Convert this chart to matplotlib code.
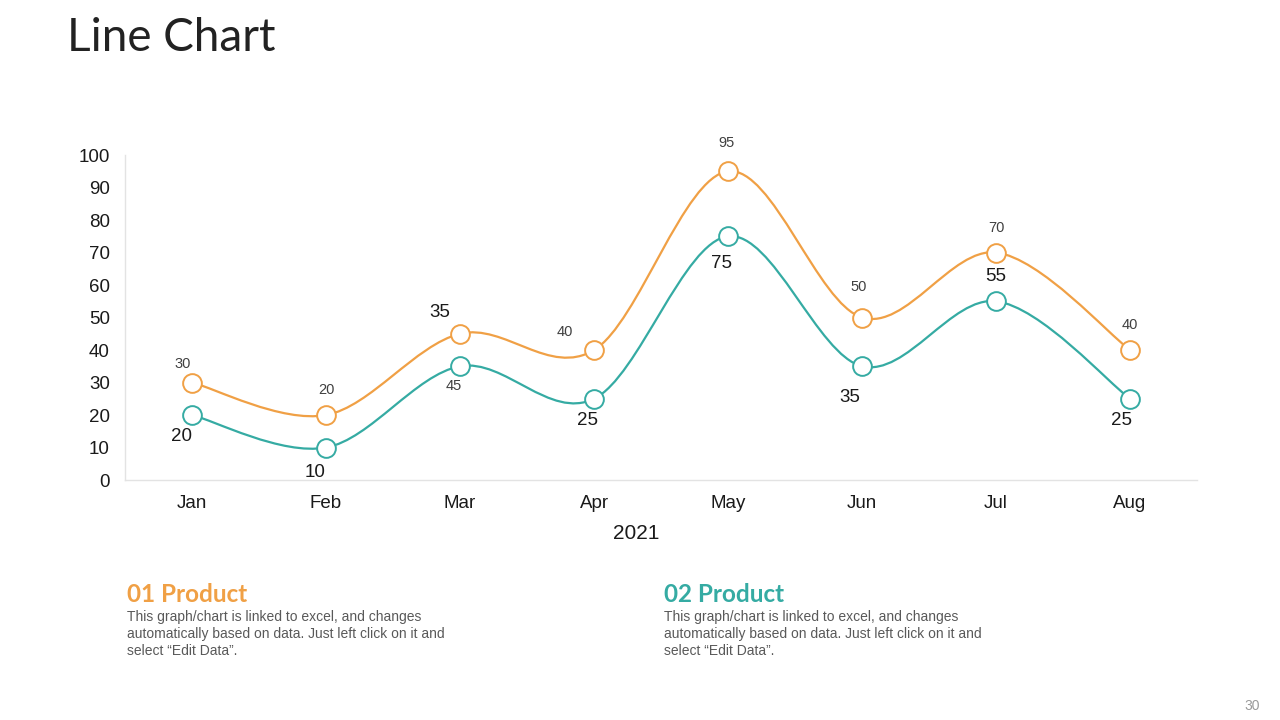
import numpy as np
import matplotlib.pyplot as plt
from matplotlib.path import Path
from matplotlib.patches import PathPatch

plt.rcParams['font.family'] = ['Liberation Sans', 'DejaVu Sans']

# chart data
months = ['Jan', 'Feb', 'Mar', 'Apr', 'May', 'Jun', 'Jul', 'Aug']
product1 = [30, 20, 45, 40, 95, 50, 70, 40]
product2 = [20, 10, 35, 25, 75, 35, 55, 25]
year_label = '2021'

orange = '#F0A045'
teal = '#35ABA3'

# label offsets in pixels (dx, dy), styling only
p1_offsets = [(-9, 19), (0, 25), (-6, -52), (-29, 18), (-2, 28), (-3, 31), (0, 25), (0, 25)]
p2_offsets = [(-11, -21), (-11, -25), (-20, 54), (-7, -22), (-7, -27), (-12, -31), (0, 25), (-9, -22)]


def smooth_path(xs, ys):
    # Excel style smooth line: cubic bezier through points
    pts = np.column_stack([xs, ys]).astype(float)
    n = len(pts)
    verts = [pts[0]]
    codes = [Path.MOVETO]
    for i in range(n - 1):
        p0 = pts[i - 1] if i > 0 else pts[i]
        p1 = pts[i]
        p2 = pts[i + 1]
        p3 = pts[i + 2] if i + 2 < n else pts[i + 1]
        c1 = p1 + (p2 - p0) / 6.0
        c2 = p2 - (p3 - p1) / 6.0
        verts += [c1, c2, p2]
        codes += [Path.CURVE4] * 3
    return Path(verts, codes)


fig = plt.figure(figsize=(12.8, 7.2), dpi=100)
ax = fig.add_axes([0.0977, 0.3333, 0.8375, 0.4514])

x = np.arange(len(months))
for vals, col in [(product1, orange), (product2, teal)]:
    ax.add_patch(PathPatch(smooth_path(x, vals), fill=False, edgecolor=col, lw=1.6, zorder=2))
    ax.plot(x, vals, ls='none', marker='o', ms=13.5, mfc='white', mec=col, mew=1.4, zorder=3)

for i in range(len(months)):
    dx, dy = p1_offsets[i]
    ax.annotate(str(product1[i]), (x[i], product1[i]), xytext=(dx * 0.72, dy * 0.72),
                textcoords='offset points', ha='center', va='center', fontsize=10.5, color='#404040')
    dx, dy = p2_offsets[i]
    ax.annotate(str(product2[i]), (x[i], product2[i]), xytext=(dx * 0.72, dy * 0.72),
                textcoords='offset points', ha='center', va='center', fontsize=13.5, color='#1a1a1a')

ax.set_xlim(-0.5, len(months) - 0.5)
ax.set_ylim(0, 100)
ax.set_yticks(range(0, 101, 10))
ax.set_xticks(x)
ax.set_xticklabels(months)
ax.tick_params(length=0, labelsize=13.5, colors='#1a1a1a', pad=11)
ax.tick_params(axis='y', pad=11)
for s in ['top', 'right']:
    ax.spines[s].set_visible(False)
for s in ['left', 'bottom']:
    ax.spines[s].set_color('#e3e3e3')
    ax.spines[s].set_linewidth(1)
ax.set_xlabel(year_label, fontsize=15, color='#1a1a1a', labelpad=4)
ax.xaxis.set_label_coords(0.477, -0.135)

fig.text(0.052, 0.947, 'Line Chart', fontsize=33, color='#222222', va='center',
         family=['Lato', 'DejaVu Sans'])

blurb = 'This graph/chart is linked to excel, and changes\nautomatically based on data. Just left click on it and\nselect \u201cEdit Data\u201d.'
for xpos, title, col in [(0.099, '01 Product', orange), (0.519, '02 Product', teal)]:
    fig.text(xpos, 0.174, title, fontsize=17.5, fontweight='bold', color=col, va='center',
             family=['Lato', 'DejaVu Sans'])
    fig.text(xpos, 0.153, blurb, fontsize=10, color='#595959', va='top', linespacing=1.3)

fig.text(0.984, 0.02, '30', fontsize=10, color='#9a9a9a', ha='right', va='center')

fig.savefig('out.png', dpi=100, facecolor='white')
